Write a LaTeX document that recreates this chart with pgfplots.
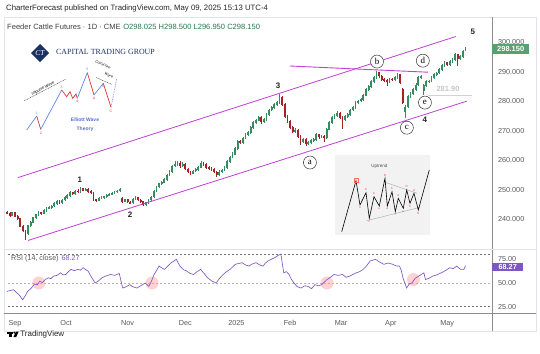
\documentclass[border=0pt]{standalone}
\usepackage{pgfplots}
\pgfplotsset{compat=1.18}
\usepackage{pgfplotstable}
\usepackage{fontspec}
\setmainfont{Liberation Sans}
\newfontfamily\seriff{Liberation Serif}
\definecolor{tvgreen}{RGB}{52,140,95}
\definecolor{tvred}{RGB}{165,35,35}
\definecolor{chan}{RGB}{192,64,214}
\definecolor{rsipurple}{RGB}{126,87,194}
\definecolor{txtgray}{RGB}{90,90,90}
\definecolor{framec}{RGB}{224,227,235}
\definecolor{navy}{RGB}{28,48,98}
\definecolor{ewblue}{RGB}{100,130,240}
\definecolor{ewred}{RGB}{225,50,50}
\definecolor{boxgreen}{RGB}{88,160,112}
\definecolor{ohlc}{RGB}{40,120,80}

\pgfplotstableread{
i o h l c
-3 242.4 242.8 241.6 242.0
-2 242.0 242.3 240.9 241.3
-1 241.3 242.6 241.0 242.2
0 242.2 242.4 240.6 241.0
1 241.0 241.3 239.8 240.2
2 240.2 240.5 237.2 237.5
3 237.5 238.0 235.6 236.0
4 236.0 236.4 233.0 235.2
5 235.2 238.2 234.8 237.8
6 237.8 239.5 237.4 239.0
7 239.0 240.9 238.7 240.5
8 240.5 241.8 240.1 241.5
9 241.5 242.7 241.1 242.3
10 242.3 242.6 241.5 242.0
11 242.0 243.4 241.7 243.0
12 243.0 244.1 242.6 243.8
13 243.8 244.5 243.3 244.0
14 244.0 244.9 243.5 244.5
15 244.5 245.7 244.2 245.3
16 245.3 246.4 244.9 246.0
17 246.0 246.5 245.2 245.6
18 245.6 246.9 245.3 246.5
19 246.5 247.8 246.1 247.4
20 247.4 248.4 247.0 248.0
21 248.0 249.4 247.6 249.0
22 249.0 249.3 248.2 248.6
23 248.6 250.0 248.3 249.6
24 249.6 250.1 248.9 249.3
25 249.3 250.8 249.0 250.3
26 250.3 250.6 249.4 249.8
27 249.8 250.6 249.4 250.2
28 250.2 250.5 249.0 249.4
29 249.4 249.8 248.6 249.0
30 249.0 249.3 246.2 246.6
31 246.6 247.0 245.9 246.4
32 246.4 247.4 246.1 247.0
33 247.0 247.7 246.7 247.3
34 247.3 248.0 246.9 247.6
35 247.6 248.5 247.3 248.2
36 248.2 248.9 247.9 248.5
37 248.5 249.1 248.1 248.8
38 248.8 249.7 248.5 249.4
39 249.4 249.9 249.0 249.6
40 249.6 250.4 249.3 250.0
41 247.0 247.6 245.5 246.0
42 246.0 247.0 245.7 246.6
43 246.6 246.9 245.4 245.8
44 245.8 246.2 245.0 245.5
45 245.5 247.2 245.2 246.8
46 246.8 247.8 246.4 247.3
47 247.3 247.6 246.1 246.5
48 246.5 246.8 245.6 246.0
49 246.0 246.3 244.4 245.0
50 245.0 245.9 244.6 245.6
51 245.6 247.0 245.3 246.6
52 246.6 247.9 246.3 247.5
53 247.5 249.9 247.2 249.5
54 249.5 251.4 249.1 251.0
55 251.0 252.4 250.6 252.0
56 252.0 252.9 251.5 252.5
57 252.5 253.9 252.1 253.4
58 253.4 255.4 253.0 255.0
59 255.0 256.5 254.6 256.0
60 256.0 258.5 255.7 258.0
61 258.0 259.6 257.6 258.6
62 258.6 259.8 258.0 259.0
63 259.0 259.8 257.5 258.0
64 258.0 259.4 257.6 258.5
65 258.5 258.9 256.6 257.0
66 257.0 257.4 255.5 256.0
67 256.0 256.4 255.0 255.6
68 255.6 256.8 255.2 256.3
69 256.3 257.3 255.9 256.8
70 256.8 258.0 256.4 257.6
71 257.6 259.6 257.2 259.0
72 259.0 259.4 258.0 258.5
73 258.5 258.9 257.1 257.5
74 257.5 258.0 256.5 257.0
75 257.0 257.6 256.3 256.8
76 256.8 257.2 255.5 256.0
77 256.0 256.4 254.4 255.0
78 255.0 256.5 254.7 256.0
79 256.0 257.0 255.6 256.6
80 256.6 258.0 256.2 257.5
81 257.5 260.0 257.1 259.5
82 259.5 261.5 259.1 261.0
83 261.0 262.6 260.6 262.0
84 262.0 264.5 261.6 264.0
85 264.0 266.8 263.6 266.3
86 266.3 267.0 265.4 266.0
87 266.0 268.0 265.6 267.5
88 267.5 269.1 267.1 268.6
89 268.6 269.9 268.2 269.3
90 269.3 271.5 268.9 271.0
91 271.0 273.2 270.6 272.7
92 272.7 274.0 272.3 273.5
93 273.5 274.9 273.1 274.4
94 274.4 274.8 272.4 273.0
95 273.0 274.2 272.6 273.7
96 273.7 276.0 273.3 275.5
97 275.5 277.5 275.1 277.0
98 277.0 278.3 276.6 277.8
99 277.8 279.3 277.4 278.8
100 278.8 280.0 278.4 279.5
101 279.5 282.5 279.1 281.2
102 281.2 281.6 278.3 278.8
103 278.8 279.2 274.2 274.7
104 274.7 275.3 272.5 273.0
105 273.0 273.6 270.5 271.0
106 271.0 271.5 269.2 269.7
107 269.7 270.8 269.3 270.2
108 270.2 270.6 267.5 268.0
109 268.0 268.5 265.0 266.3
110 266.3 267.5 265.9 267.0
111 267.0 267.4 264.8 265.5
112 265.5 266.5 265.1 266.0
113 266.0 267.3 265.6 266.8
114 266.8 267.5 266.2 267.0
115 267.0 269.1 266.6 268.6
116 268.6 269.0 267.3 267.8
117 267.8 268.6 267.4 268.0
118 268.0 268.4 266.0 267.6
119 267.6 271.0 267.2 270.5
120 270.5 273.2 270.1 272.7
121 272.7 274.9 272.3 274.4
122 274.4 275.5 274.0 275.0
123 275.0 276.5 274.6 276.0
124 276.0 276.4 274.0 274.5
125 274.5 275.0 270.5 273.7
126 273.7 275.3 273.3 274.8
127 274.8 275.9 274.4 275.4
128 275.4 277.5 275.0 277.0
129 277.0 278.3 276.6 277.8
130 277.8 280.0 277.4 279.5
131 279.5 280.5 279.0 280.0
132 280.0 281.0 279.6 280.5
133 280.5 282.5 280.1 282.0
134 282.0 284.4 281.6 283.9
135 283.9 285.5 283.5 285.0
136 285.0 287.1 284.6 286.6
137 286.6 288.5 286.2 288.0
138 288.0 290.2 287.6 289.6
139 289.6 290.0 288.0 288.5
140 288.5 288.9 286.8 287.3
141 287.3 287.7 286.5 287.0
142 287.0 287.4 285.0 286.6
143 286.6 288.0 286.2 287.5
144 287.5 287.9 286.8 287.3
145 287.3 288.5 286.9 288.0
146 288.0 289.6 287.6 289.0
147 289.0 289.3 285.8 286.3
148 284.0 284.5 279.0 279.5
149 276.5 278.6 274.4 278.0
150 278.0 282.0 277.6 281.5
151 281.5 283.0 281.1 282.5
152 282.5 284.4 282.1 283.9
153 283.9 286.0 283.5 285.5
154 285.5 288.5 285.1 288.0
155 288.0 289.0 287.6 288.3
156 283.6 285.8 282.0 285.3
157 285.3 287.1 284.9 286.6
158 286.6 287.3 286.2 286.8
159 286.8 288.5 286.4 288.0
160 288.0 289.5 287.6 289.0
161 289.0 290.0 288.6 289.5
162 289.5 291.2 289.1 290.7
163 290.7 292.5 290.3 292.0
164 292.0 293.5 291.6 293.0
165 293.0 293.4 291.9 292.4
166 292.4 293.9 292.0 293.4
167 293.4 294.5 293.0 294.0
168 294.0 296.2 293.6 295.7
169 295.7 296.0 292.0 294.5
170 294.5 295.5 294.1 295.0
171 295.0 297.3 294.6 296.8
172 298.025 298.5 296.95 298.15
}\candles

\pgfplotstableread{
i r
-3.1 41.1
-2 42.0
-0.5 42.9
0.5 40
1.5 37.9
2.9 32.3
3.8 36
4.8 41.1
6 44
7.5 49
8.5 48
9.5 51.9
10.5 50.5
11.5 53.6
12.7 55.5
13.7 54.5
14.7 57.2
16 58
17.4 60.7
18.4 58.5
19.4 59
20.4 62
21.4 64.3
22.6 63
24 64.3
25 63.5
26 66.1
27 64
27.9 62.6
29 57
30.6 50
31.8 52
33.2 55.5
34.8 57.5
36.5 59
38 58
39.8 60
41.1 44.7
42.4 46
43.8 48.2
45 46
46.5 44.7
48 47
49.7 50
51.1 46.5
52.1 52
53.1 59
54 63
55 67.8
56 66
57 64.3
58.4 68
59.7 71.4
60.6 73
61.6 75
62.3 71
63 67.8
64.3 64
65.6 62.6
66.9 60
68.2 59
69.5 62
70.9 64.3
72.2 60
73.5 55.5
75.2 52
76.8 50
78.1 55
79.5 59
80.8 62
82.1 64.3
83.1 67
84.1 69.7
85.4 70.5
86.7 71.4
88 69
89.3 67.8
90.6 70
92 71.4
93.4 69
94.7 67.8
95.6 71
96.6 73.2
97.9 75
99.2 76.8
100.4 79
101.5 80.4
102.6 60.7
103.6 62
104.6 59
105.5 54
106.5 50
107.8 46
109.2 44.7
110.5 47
111.8 46.5
113.2 44
114.5 48.2
115.8 47
117.1 48.2
118.1 51
119.1 53.6
120.4 56
121.8 59
123.4 58
125 59
126.4 56
127.7 57.2
129 59
130.3 60.7
131.6 62
132.9 64.3
134.2 68
135.6 73.2
136.6 74
137.6 75
139.2 72
140.8 69.7
142.5 71
144.2 69.7
145.5 68
146.8 67.8
147.5 63
148.1 55.5
149.5 44.7
150.5 49
151.5 50
152.8 55
154.1 57.2
155.1 59
156.1 60.7
156.7 53.6
158 55
159.4 57.2
161 58.5
162.7 60.7
164.3 63
166 66.1
167.3 65
168.6 67.8
170 64.5
171.3 64.3
172 68.27
}\rsidata

\tikzset{wlab/.style={font=\fontsize{8}{9}\selectfont\bfseries, text=black!85},
  clab/.style={circle, draw=black!80, line width=0.5bp, fill=white, inner sep=0pt, minimum size=13bp,
        font=\seriff\fontsize{9}{9}\selectfont},
  pinkc/.style={red!40, opacity=0.45}}

\begin{document}
\begin{tikzpicture}
\path[use as bounding box] (0,0) rectangle (540bp,-354bp);
\fill[white] (0,0) rectangle (540bp,-354bp);

% ---------- main price panel ----------
\begin{axis}[at={(8bp,-249bp)}, anchor=south west, scale only axis,
  width=484bp, height=232bp,
  xmin=-2.67, xmax=182.1, ymin=229.9, ymax=308.5,
  axis line style={draw=none}, tick style={draw=none},
  xtick=\empty, ytick={240,250,...,300},
  yticklabel pos=right,
  yticklabel style={font=\fontsize{7.3}{8}\selectfont, text=txtgray, anchor=west, xshift=2.5bp,
    /pgf/number format/fixed, /pgf/number format/fixed zerofill, /pgf/number format/precision=3},
  /pgf/number format/assume math mode=true,
  clip=false]
% wicks
\addplot[draw=none, mark=none, forget plot,
  restrict expr to domain={\thisrow{c}-\thisrow{o}}{0:100},
  error bars/.cd, y dir=both, y explicit, error mark=none,
  error bar style={line width=0.5bp, tvgreen}]
  table[x=i, y expr={(\thisrow{h}+\thisrow{l})/2}, y error expr={(\thisrow{h}-\thisrow{l})/2}] {\candles};
\addplot[draw=none, mark=none, forget plot,
  restrict expr to domain={\thisrow{c}-\thisrow{o}}{-100:-0.0001},
  error bars/.cd, y dir=both, y explicit, error mark=none,
  error bar style={line width=0.5bp, tvred}]
  table[x=i, y expr={(\thisrow{h}+\thisrow{l})/2}, y error expr={(\thisrow{h}-\thisrow{l})/2}] {\candles};
% bodies
\addplot[draw=none, mark=none, forget plot,
  restrict expr to domain={\thisrow{c}-\thisrow{o}}{0:100},
  error bars/.cd, y dir=both, y explicit, error mark=none,
  error bar style={line width=1.8bp, tvgreen}]
  table[x=i, y expr={(\thisrow{o}+\thisrow{c})/2}, y error expr={abs(\thisrow{c}-\thisrow{o})/2+0.12}] {\candles};
\addplot[draw=none, mark=none, forget plot,
  restrict expr to domain={\thisrow{c}-\thisrow{o}}{-100:-0.0001},
  error bars/.cd, y dir=both, y explicit, error mark=none,
  error bar style={line width=1.8bp, tvred}]
  table[x=i, y expr={(\thisrow{o}+\thisrow{c})/2}, y error expr={abs(\thisrow{c}-\thisrow{o})/2+0.12}] {\candles};
% channel lines
\addplot[chan, line width=0.8bp, forget plot] coordinates {(1.15,254.1) (168.3,301.9)};
\addplot[chan, line width=0.8bp, forget plot] coordinates {(5,232.8) (172.5,280.0)};
\addplot[chan, line width=0.9bp, forget plot] coordinates {(104.96,291.9) (157.6,289.8)};
% 281.90 level
\addplot[gray!35, line width=0.6bp, forget plot] coordinates {(157.6,281.9) (174.4,281.9)};
\node[text=gray!45, font=\fontsize{7.5}{8}\selectfont\bfseries] at (axis cs:165.3,284.0) {281.90};
% wave labels
\node[wlab] at (axis cs:24.8,253.4) {1};
\node[wlab] at (axis cs:43.9,241.5) {2};
\node[wlab] at (axis cs:100.4,285.3) {3};
\node[wlab] at (axis cs:156.5,273.7) {4};
\node[wlab] at (axis cs:174.8,303.6) {5};
\node[clab] at (axis cs:112.6,259.2) {a};
\node[clab] at (axis cs:138.2,293.4) {b};
\node[clab] at (axis cs:149.6,271.0) {c};
\node[clab] at (axis cs:155.7,293.7) {d};
\node[clab] at (axis cs:156.5,279.5) {e};
\end{axis}

% ---------- RSI panel ----------
\begin{axis}[at={(8bp,-313bp)}, anchor=south west, scale only axis,
  width=484bp, height=64bp,
  xmin=-2.67, xmax=182.1, ymin=18.4, ymax=85.8,
  axis line style={draw=none}, tick style={draw=none},
  ytick={25,50,75}, yticklabel pos=right,
  yticklabel style={font=\fontsize{7.3}{8}\selectfont, text=txtgray, anchor=west, xshift=2.5bp,
    /pgf/number format/fixed, /pgf/number format/fixed zerofill, /pgf/number format/precision=2},
  xtick={0,19.5,43,65,84.5,105,124.5,143.5,165},
  xticklabels={Sep,Oct,Nov,Dec,2025,Feb,Mar,Apr,May},
  xticklabel style={font=\fontsize{7.3}{8}\selectfont, text=txtgray, yshift=-3.5bp},
  /pgf/number format/assume math mode=true,
  clip=false]
\addplot[black!55, dash pattern=on 2bp off 2bp, line width=0.5bp, forget plot] coordinates {(-2.67,80) (182.1,80)};
\addplot[black!30, dash pattern=on 2bp off 2bp, line width=0.5bp, forget plot] coordinates {(-2.67,50) (182.1,50)};
\addplot[black!55, dash pattern=on 2bp off 2bp, line width=0.5bp, forget plot] coordinates {(-2.67,25) (182.1,25)};
\fill[pinkc] (axis cs:9.1,50) circle[radius=6.5bp];
\fill[pinkc] (axis cs:52.3,50) circle[radius=6.5bp];
\fill[pinkc] (axis cs:119.1,50) circle[radius=6.5bp];
\fill[pinkc] (axis cs:152.1,53.6) circle[radius=6.5bp];
\addplot[rsipurple, line width=0.65bp, forget plot] table[x=i, y=r] {\rsidata};
\end{axis}

% ---------- decorations in pixel coordinates ----------
\begin{scope}[x=1bp, y=-1bp]
% frame and separators
\draw[framec, line width=0.6bp] (4,17) rectangle (536,331);
\draw[black!45, line width=0.5bp] (492,17) -- (492,331);
\draw[framec, line width=0.8bp] (4,249) -- (536,249);
\draw[black!45, line width=0.5bp] (4,313.5) -- (536,313.5);
% header
\node[anchor=west, inner sep=0pt, font=\fontsize{7.8}{9}\selectfont, text=black!85] at (6,8)
  {CharterForecast published on TradingView.com, May 09, 2025 15:13 UTC-4};
\node[anchor=west, inner sep=0pt, font=\fontsize{7.6}{9}\selectfont, text=black!75] at (7,27)
  {Feeder Cattle Futures · 1D · CME\hspace{2.5bp}\textcolor{ohlc}{O298.025 H298.500 L296.950 C298.150}};
% price boxes
\node[fill=boxgreen, text=white, font=\fontsize{7.5}{8}\selectfont\bfseries, inner sep=0pt,
      minimum width=37bp, minimum height=9.5bp, anchor=west] at (492,49) {298.150};
\node[fill=rsipurple, text=white, font=\fontsize{7.3}{8}\selectfont\bfseries, inner sep=0pt,
      minimum width=31bp, minimum height=8.5bp, anchor=west] at (492,267) {68.27};
% RSI label
\node[anchor=west, inner sep=0pt, font=\fontsize{7.2}{8}\selectfont, text=txtgray] at (11,259)
  {RSI (14, close)\hspace{3bp}\textcolor{rsipurple}{68.27}};
% logo
\fill[navy] (40,44) -- (49,53) -- (40,62) -- (31,53) -- cycle;
\node[text=white, font=\seriff\fontsize{7.5}{7}\selectfont\itshape] at (40,53) {CT};
\node[anchor=west, inner sep=0pt, text=navy, font=\seriff\fontsize{7.9}{8}\selectfont] at (56,52.3)
  {CAPITAL TRADING GROUP};
% Elliott wave mini diagram
\draw[ewblue, line width=0.7bp] (26.7,130) -- (36.7,116);
\draw[ewred, line width=0.7bp] (36.7,116) -- (40.7,129.3);
\draw[ewblue, line width=0.7bp] (40.7,129.3) -- (61.7,90);
\draw[ewred, line width=0.7bp] (61.7,90) -- (66.7,96.7) -- (70,91.7) -- (72.7,98.3) -- (76,94) -- (77.3,98.3);
\draw[ewblue, line width=0.7bp] (77.3,98.3) -- (87.3,72.7);
\draw[ewred, line width=0.7bp] (87.3,72.7) -- (94,95);
\draw[ewblue, line width=0.7bp] (94,95) -- (103.3,83.3);
\draw[ewred, line width=0.7bp] (103.3,83.3) -- (111,107.3);
\draw[ewblue!70, line width=0.7bp, dash pattern=on 1.5bp off 1bp] (111,107.3) -- (116.7,79);
\foreach \x/\y/\t/\c in {36.7/113/1/ewblue, 41/133/2/ewred, 61.7/87/3/ewblue, 77.3/101.5/4/ewred,
   87.3/69.5/5/ewblue, 94/98.5/A/ewred, 103.3/86.5/B/ewblue, 111/111/C/ewred}{
  \node[text=\c, font=\fontsize{3.5}{4}\selectfont, inner sep=0pt] at (\x,\y) {\t};
}
\draw[black!80, line width=0.4bp, dash pattern=on 1bp off 0.7bp] (24,101) -- (66,79);
\node[rotate=27.5, font=\fontsize{4}{4}\selectfont\itshape, inner sep=0pt] at (43,88.5) {Impulse Wave};
\draw[black!80, line width=0.4bp, dash pattern=on 1bp off 0.7bp] (96,77.5) -- (112,84.5);
\node[rotate=-24, font=\fontsize{3.6}{4}\selectfont\itshape, inner sep=0pt] at (103,64.5) {Corrective};
\node[rotate=-24, font=\fontsize{3.6}{4}\selectfont\itshape, inner sep=0pt] at (109,75.5) {Wave};
\node[text=ewblue!85!black, font=\fontsize{5}{6}\selectfont\bfseries, inner sep=0pt] at (85,120) {Elliott Wave};
\node[text=ewblue!85!black, font=\fontsize{5}{6}\selectfont\bfseries, inner sep=0pt] at (85,129) {Theory};
% Uptrend inset
\fill[black!5] (335,155) rectangle (430,235);
\node[font=\fontsize{4.5}{5}\selectfont, text=black!70, inner sep=0pt] at (379.3,166) {Uptrend};
\draw[black!35, line width=0.4bp] (383.3,181.7) -- (417.3,193.3);
\draw[black!35, line width=0.4bp] (366.7,220.7) -- (420,207.3);
\draw[black, line width=0.6bp] (341.7,231.7) -- (356,180.7) -- (360,205) -- (366,192.7) -- (369.3,218.3)
  -- (374,196.7) -- (379.3,206) -- (385,178.3) -- (387.3,206) -- (392,191.7) -- (395.3,211.7)
  -- (398.3,198.3) -- (403.3,208.3) -- (406.7,190) -- (410,203.3) -- (414,193.3) -- (418.3,210) -- (429.3,170);
\foreach \x/\y/\t in {360/208/a, 366/189.5/b, 369.3/222/c, 374/193.5/b, 379.3/209/e,
   385/175/B, 387.3/209/a, 392/188.5/b, 395.3/215/c, 398.3/195/d, 403.3/211.5/e, 406.7/186.5/D,
   410/206.5/b, 414/190/d, 418.3/213.5/E}{
  \node[text=red!75, font=\fontsize{3}{3}\selectfont, inner sep=0pt] at (\x,\y) {\t};
}
\draw[red!60, line width=0.3bp] (354,178.5) rectangle (358,182.5);
% TradingView logo
\fill[black] (7,331.5) rectangle (12.8,333.6);
\fill[black] (9.2,333.6) rectangle (11.6,337.2);
\fill[black] (14.3,332.6) circle[radius=1.1];
\fill[black] (13.4,337.2) -- (16,331.5) -- (18.7,331.5) -- (16.1,337.2) -- cycle;
\node[anchor=west, inner sep=0pt, font=\fontsize{8}{9}\selectfont, text=black!85] at (20.2,334.5) {TradingView};
\end{scope}
\end{tikzpicture}
\end{document}
